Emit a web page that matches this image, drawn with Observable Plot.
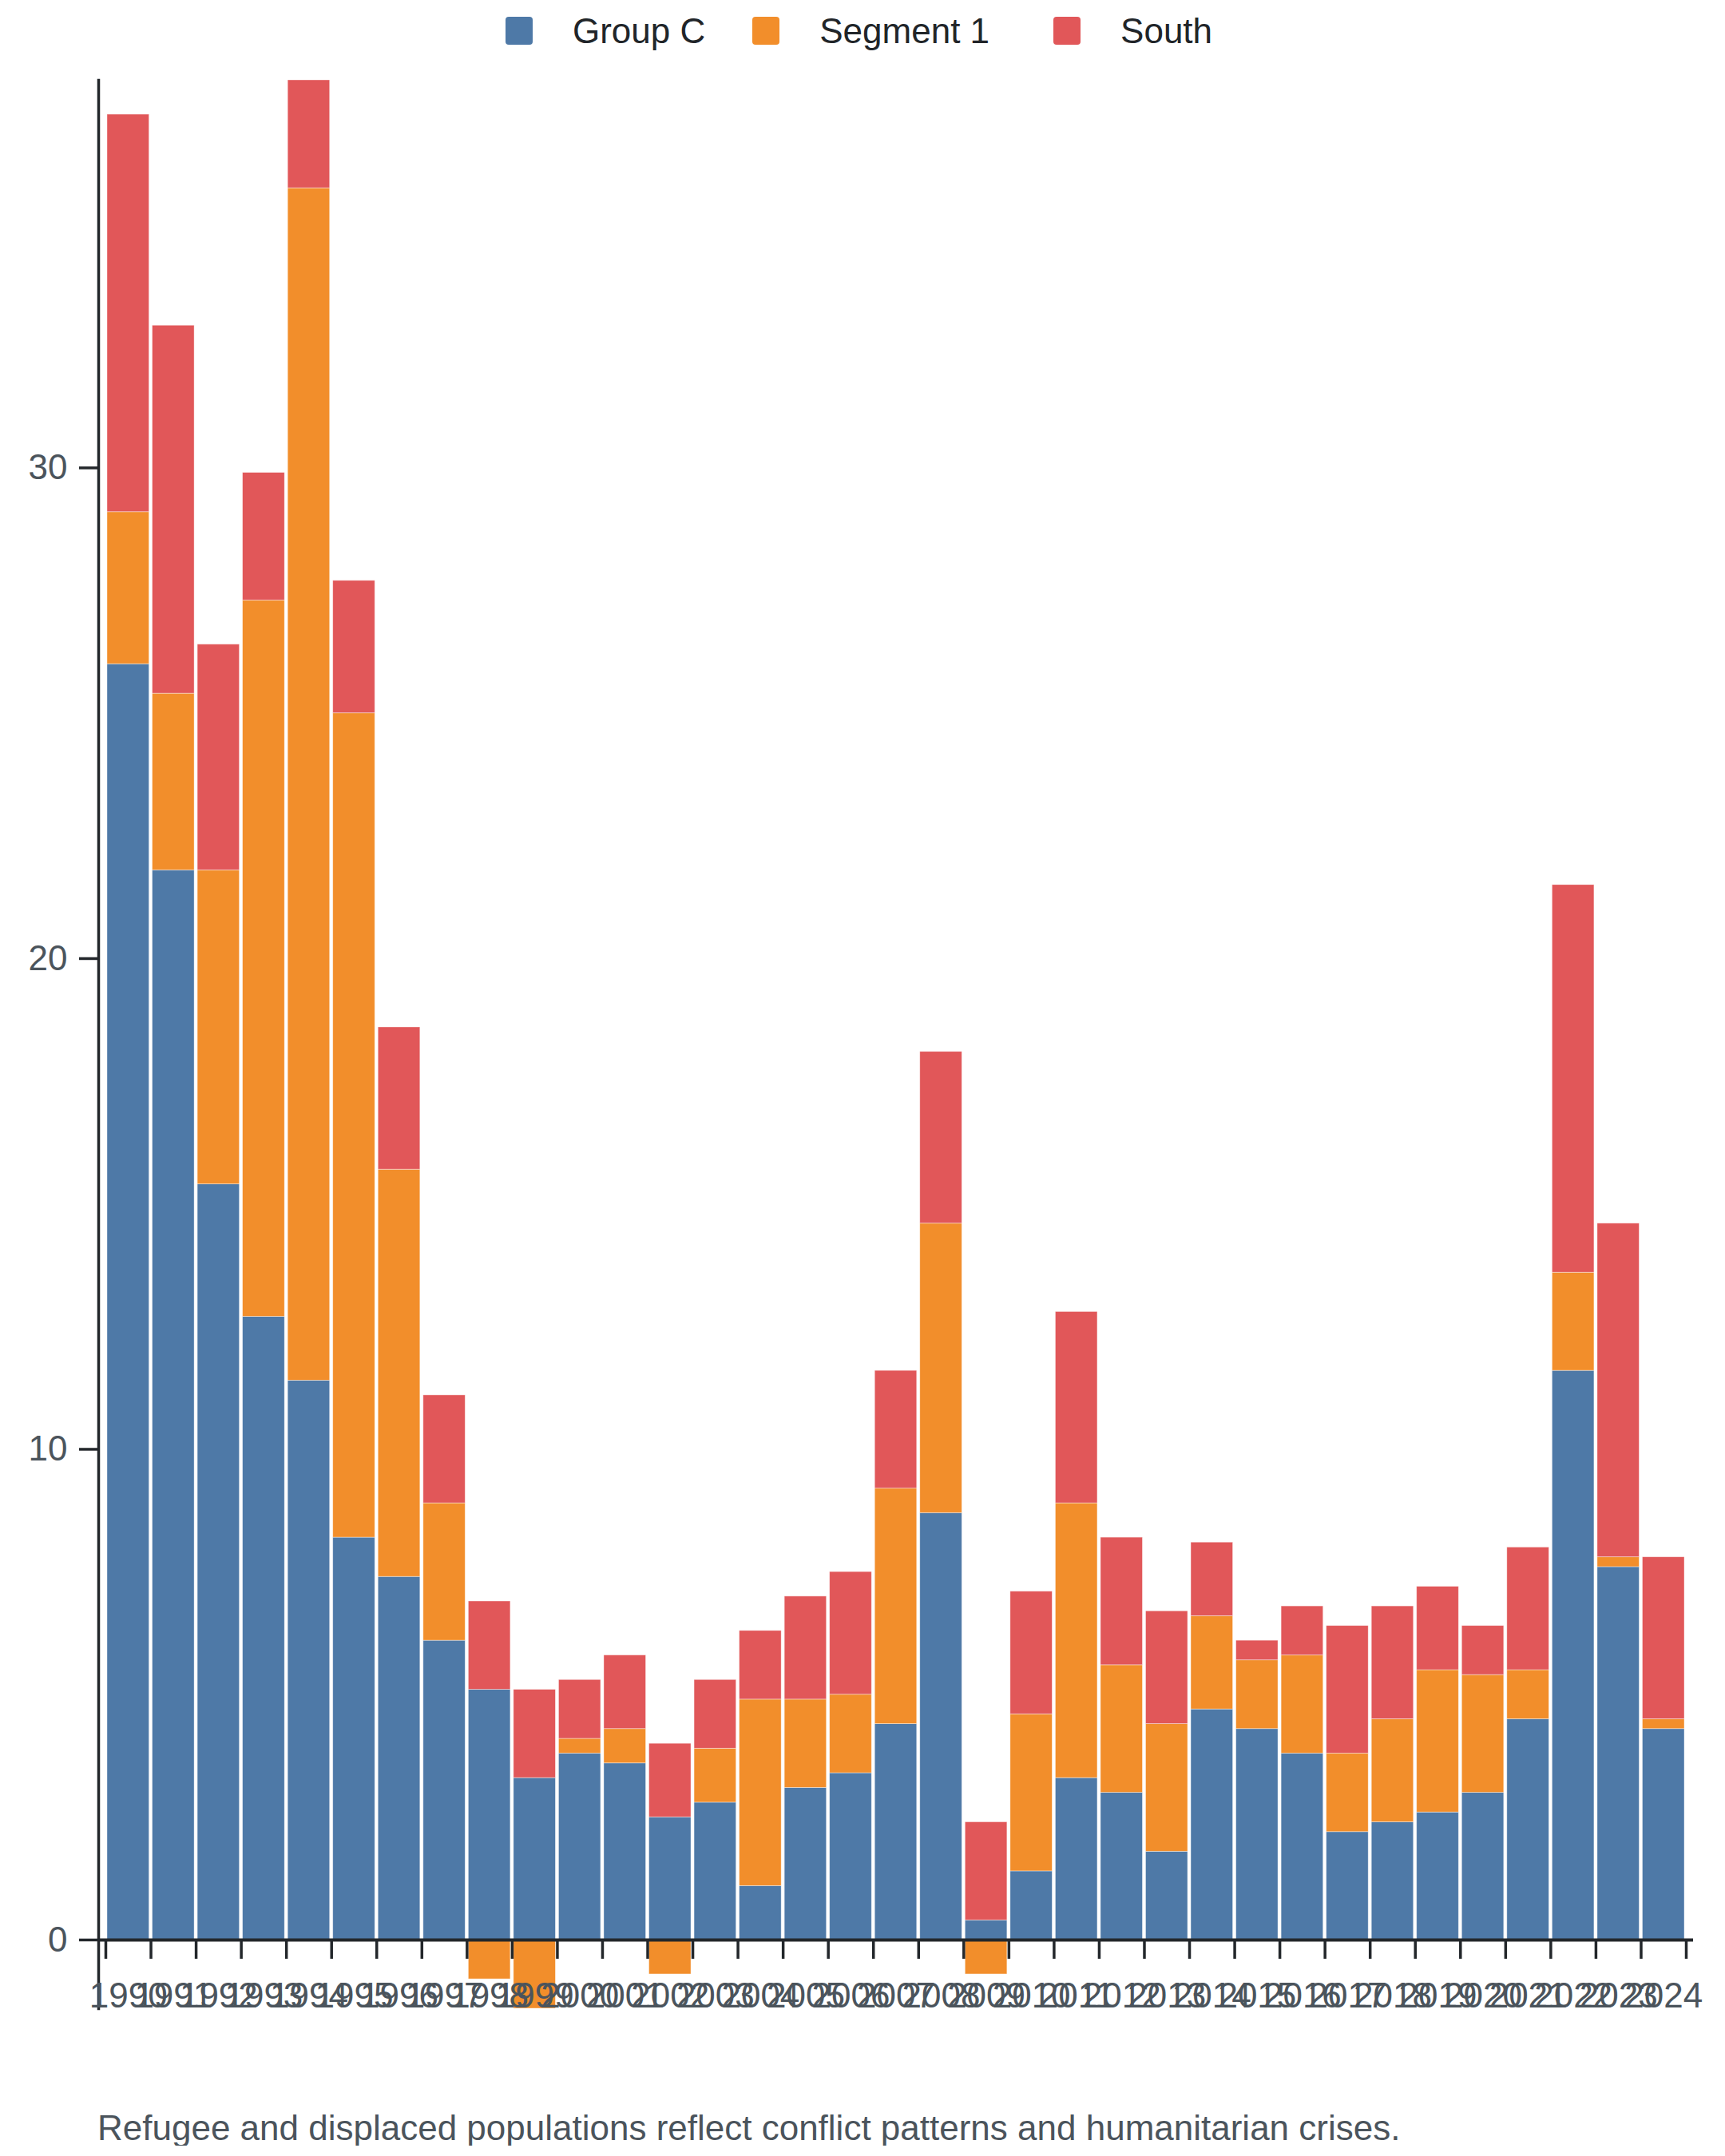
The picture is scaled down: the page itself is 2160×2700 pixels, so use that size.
<!DOCTYPE html>
<html>
<head>
<meta charset="utf-8">
<script src="https://cdn.jsdelivr.net/npm/d3@7"></script>
<script src="https://cdn.jsdelivr.net/npm/@observablehq/plot@0.6"></script>
<style>
  html, body { margin: 0; padding: 0; background: #fff; }
  body { width: 2160px; font-family: "Liberation Sans", Arial, sans-serif; }
  #legend { height: 77px; display: flex; justify-content: center; align-items: center; padding-right: 9px; }
  .item { display: flex; align-items: center; }
  .sw { width: 34px; height: 35px; border-radius: 4px; margin-right: 50px; }
  .lab { font-size: 44px; line-height: 44px; color: #212529; }
  #chart svg { display: block; }
  #caption { padding: 83px 0 0 122px; font-size: 44px; line-height: 44px; color: #4b545c; white-space: nowrap; }
</style>
</head>
<body>
<div id="legend"></div>
<div id="chart"></div>
<div id="caption">Refugee and displaced populations reflect conflict patterns and humanitarian crises.</div>
<script>
const years = [1990,1991,1992,1993,1994,1995,1996,1997,1998,1999,2000,2001,2002,2003,2004,2005,2006,2007,2008,2009,2010,2011,2012,2013,2014,2015,2016,2017,2018,2019,2020,2021,2022,2023,2024];
const tickYears = [1990,1991,1992,1993,1994,1995,1996,1997,1998,1999,2000,2001,2002,2003,2004,2005,2006,2007,2008,2009,2010,2011,2012,2013,2014,2015,2016,2017,2018,2019,2020,2021,2022,2023,2024,2025];
const seriesNames = ["Group C", "Segment 1", "South"];
const groupC =   [26.0,21.8,15.4,12.7,11.4,8.2,7.4,6.1,5.1,3.3,3.8,3.6,2.5,2.8,1.1,3.1,3.4,4.4,8.7,0.4,1.4,3.3,3.0,1.8,4.7,4.3,3.8,2.2,2.4,2.6,3.0,4.5,11.6,7.6,4.3];
const segment1 = [3.1,3.6,6.4,14.6,24.3,16.8,8.3,2.8,-0.8,-1.4,0.3,0.7,-0.7,1.1,3.8,1.8,1.6,4.8,5.9,-0.7,3.2,5.6,2.6,2.6,1.9,1.4,2.0,1.6,2.1,2.9,2.4,1.0,2.0,0.2,0.2];
const south =    [8.1,7.5,4.6,2.6,2.2,2.7,2.9,2.2,1.8,1.8,1.2,1.5,1.5,1.4,1.4,2.1,2.5,2.4,3.5,2.0,2.5,3.9,2.6,2.3,1.5,0.4,1.0,2.6,2.3,1.7,1.0,2.5,7.9,6.8,3.3];
const yTicks = [0, 10, 20, 30];
const colors = ["#4e79a7", "#f28e2b", "#e15759"];
const legendGaps = [59, 80, 0];

const seriesValues = [groupC, segment1, south];
const data = [];
years.forEach((year, i) => {
  seriesNames.forEach((name, k) => {
    data.push({year, series: name, value: seriesValues[k][i]});
  });
});

// legend
const legend = d3.select("#legend");
seriesNames.forEach((name, k) => {
  const item = legend.append("div").attr("class", "item").style("margin-right", legendGaps[k] + "px");
  item.append("div").attr("class", "sw").style("background", colors[k]);
  item.append("div").attr("class", "lab").text(name);
});

const axisColor = "#23272b";
const textColor = "#4b545c";

const chart = Plot.plot({
  width: 2160,
  height: 2483,
  marginTop: 23,
  marginBottom: 45,
  marginLeft: 123,
  marginRight: 40,
  style: {fontFamily: "Liberation Sans, Arial, sans-serif", background: "#fff"},
  x: {type: "linear", domain: [1990, 2025], inset: 9, axis: null},
  y: {axis: null},
  color: {domain: seriesNames, range: colors},
  marks: [
    Plot.rectY(data, Plot.stackY({
      x: "year", interval: 1, y: "value", fill: "series",
      insetLeft: 2, insetRight: 2,
      stroke: "#fff", strokeWidth: 0.8, strokeOpacity: 0.5
    })),
    Plot.frame({anchor: "left", stroke: axisColor, strokeWidth: 3.5}),
    Plot.axisY({
      ticks: yTicks, tickSize: 24, tickPadding: 15, fontSize: 44,
      fill: textColor, stroke: axisColor, strokeWidth: 3.5, label: null
    }),
    Plot.ruleY([0], {stroke: axisColor, strokeWidth: 4}),
    Plot.ruleX(tickYears, {x: d => d, y1: 0, y2: 0, insetBottom: -24, stroke: axisColor, strokeWidth: 3.5}),
    Plot.text(years, {x: d => d + 0.5, y: 0, text: d => String(d), dy: 70, fontSize: 44, fill: textColor})
  ]
});
document.getElementById("chart").appendChild(chart);
</script>
</body>
</html>
